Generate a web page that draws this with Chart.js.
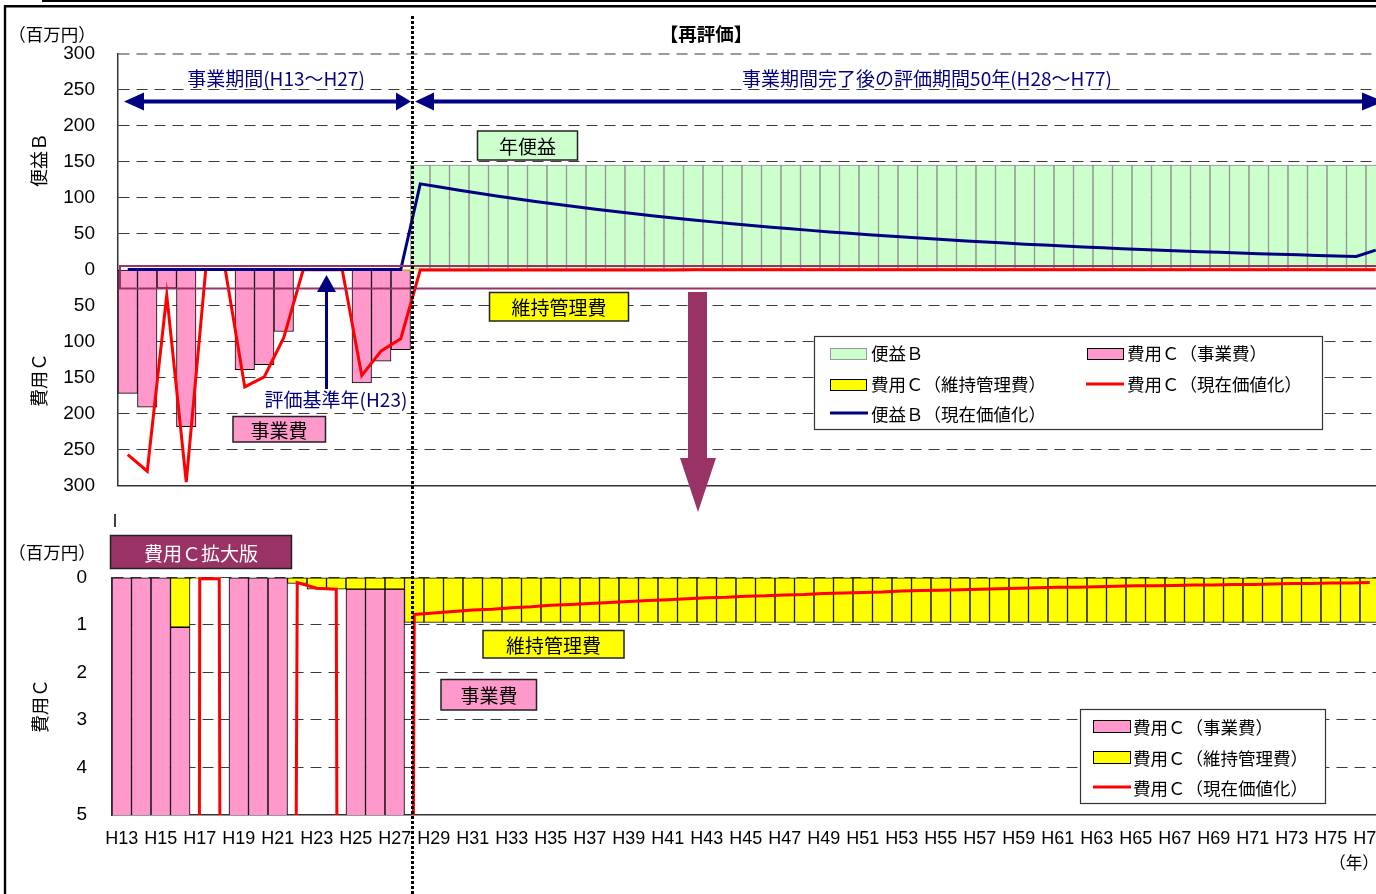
<!DOCTYPE html>
<html lang="ja">
<head>
<meta charset="utf-8">
<title>費用便益の推移</title>
<script src="https://cdn.jsdelivr.net/npm/chart.js@4.4.1/dist/chart.umd.min.js"></script>
<style>
  html, body { margin: 0; padding: 0; background: #fff; overflow: hidden; }
  #page { position: relative; width: 1376px; height: 894px; overflow: hidden; }
  canvas { position: absolute; left: 0; }
  #topChart { top: 0; }
  #bottomChart { top: 520px; }
  #overlay { position: absolute; left: 0; top: 0; }
  #overlay text { font-family: 'Noto Sans CJK JP', sans-serif; }
</style>
</head>
<body>
<div id="page">
  <canvas id="topChart" width="1400" height="520"></canvas>
  <canvas id="bottomChart" width="1400" height="374"></canvas>

  <svg id="overlay" width="1376" height="894" viewBox="0 0 1376 894">
    <!-- 外枠 -->
    <line x1="42" y1="1" x2="1376" y2="1" stroke="#000" stroke-width="2"/>
    <line x1="4" y1="6.2" x2="1376" y2="6.2" stroke="#000" stroke-width="2.6"/>
    <line x1="5" y1="5" x2="5" y2="894" stroke="#000" stroke-width="2.4"/>

    <!-- 単位・軸タイトル -->
    <text x="52" y="33.5" font-size="17.5" text-anchor="middle" dominant-baseline="central">（百万円）</text>
    <text x="52" y="551.5" font-size="17.5" text-anchor="middle" dominant-baseline="central">（百万円）</text>
    <text x="1354" y="862" font-size="16.5" text-anchor="middle" dominant-baseline="central">（年）</text>
    <text transform="translate(38 160) rotate(-90)" font-size="18" text-anchor="middle" dominant-baseline="central">便益Ｂ</text>
    <text transform="translate(38 380) rotate(-90)" font-size="18" text-anchor="middle" dominant-baseline="central">費用Ｃ</text>
    <text transform="translate(39 706) rotate(-90)" font-size="18" text-anchor="middle" dominant-baseline="central">費用Ｃ</text>
    <line x1="115" y1="514" x2="115" y2="527" stroke="#000" stroke-width="1.5"/>

    <text x="706" y="33" font-size="18.5" font-weight="bold" text-anchor="middle" dominant-baseline="central">【再評価】</text>

    <!-- 期間の矢印 -->
    <g fill="#000080" stroke="none">
      <text x="276" y="77.5" font-size="19" text-anchor="middle" dominant-baseline="central">事業期間(H13～H27)</text>
      <text x="927" y="77.5" font-size="19" text-anchor="middle" dominant-baseline="central">事業期間完了後の評価期間50年(H28～H77)</text>
      <rect x="140" y="99.5" width="260" height="4"/>
      <polygon points="124,101.5 144,92.5 144,110.5"/>
      <polygon points="411,101.5 396,92.5 396,110.5"/>
      <rect x="430" y="99.5" width="940" height="4"/>
      <polygon points="415,101.5 434,92.5 434,110.5"/>
      <polygon points="1384,101.5 1362,92.5 1362,110.5"/>
    </g>

    <!-- 0付近の枠と拡大矢印 -->
    <rect x="120" y="266" width="1280" height="22.5" fill="none" stroke="#993366" stroke-width="2"/>
    <rect x="688" y="292" width="19" height="167" fill="#993366"/>
    <polygon points="680,458 716,458 698,512" fill="#993366"/>

    <!-- 評価基準年 -->
    <g fill="#000080">
      <rect x="325" y="290" width="3" height="99"/>
      <polygon points="326.5,275 317,292 336,292"/>
      <text x="336" y="398" font-size="19" text-anchor="middle" dominant-baseline="central">評価基準年(H23)</text>
    </g>

    <!-- 注記ボックス -->
    <g stroke="#222" stroke-width="1.5">
      <rect x="477.5" y="131" width="100" height="29" fill="#ccffcc"/>
      <rect x="489.5" y="292.5" width="139" height="28.5" fill="#ffff00"/>
      <rect x="233" y="416.5" width="92.5" height="25.5" fill="#ff99cc"/>
      <rect x="110.5" y="535.5" width="181" height="33" fill="#993366"/>
      <rect x="483" y="630.5" width="141" height="27.5" fill="#ffff00"/>
      <rect x="441" y="679.5" width="95.5" height="30.5" fill="#ff99cc"/>
    </g>
    <g font-size="19" text-anchor="middle" dominant-baseline="central">
      <text x="527.5" y="145.5">年便益</text>
      <text x="559" y="306.5">維持管理費</text>
      <text x="279" y="429.5">事業費</text>
      <text x="201" y="552" fill="#fff">費用Ｃ拡大版</text>
      <text x="553.5" y="644">維持管理費</text>
      <text x="489" y="694.5">事業費</text>
    </g>

    <!-- 凡例（上段） -->
    <rect x="814.5" y="336.5" width="508" height="93" fill="#fff" stroke="#333" stroke-width="1.2"/>
    <rect x="830.5" y="348.5" width="36" height="11" fill="#ccffcc" stroke="#999"/>
    <rect x="1087.5" y="348.5" width="36" height="11" fill="#ff99cc" stroke="#000"/>
    <rect x="830.5" y="379.5" width="36" height="11" fill="#ffff00" stroke="#000"/>
    <line x1="1086" y1="384" x2="1124" y2="384" stroke="#ff0000" stroke-width="3"/>
    <line x1="830" y1="413" x2="868" y2="413" stroke="#000080" stroke-width="3"/>
    <g font-size="17.5" dominant-baseline="central">
      <text x="871" y="352.5">便益Ｂ</text>
      <text x="1127" y="352.5">費用Ｃ（事業費）</text>
      <text x="871" y="383.5">費用Ｃ（維持管理費）</text>
      <text x="1127" y="383.5">費用Ｃ（現在価値化）</text>
      <text x="871" y="413.5">便益Ｂ（現在価値化）</text>
    </g>

    <!-- 凡例（下段） -->
    <rect x="1080.5" y="709.5" width="245" height="94" fill="#fff" stroke="#333" stroke-width="1.2"/>
    <rect x="1093.5" y="720.5" width="37" height="12" fill="#ff99cc" stroke="#000"/>
    <rect x="1093.5" y="751.5" width="37" height="12" fill="#ffff00" stroke="#000"/>
    <line x1="1093" y1="787" x2="1131" y2="787" stroke="#ff0000" stroke-width="3"/>
    <g font-size="17.5" dominant-baseline="central">
      <text x="1133" y="726">費用Ｃ（事業費）</text>
      <text x="1133" y="757">費用Ｃ（維持管理費）</text>
      <text x="1133" y="787.5">費用Ｃ（現在価値化）</text>
    </g>

    <!-- 事業期間と評価期間の境界 -->
    <line x1="412.5" y1="16" x2="412.5" y2="894" stroke="#000" stroke-width="3" stroke-dasharray="3,2"/>
  </svg>
</div>

<script>
// 年度（H13～H77）
const years = [
  'H13','H14','H15','H16','H17','H18','H19','H20','H21','H22','H23','H24','H25','H26','H27',
  'H28','H29','H30','H31','H32','H33','H34','H35','H36','H37','H38','H39','H40','H41','H42',
  'H43','H44','H45','H46','H47','H48','H49','H50','H51','H52','H53','H54','H55','H56','H57',
  'H58','H59','H60','H61','H62','H63','H64','H65','H66','H67','H68','H69','H70','H71','H72',
  'H73','H74','H75','H76','H77'
];

// 便益B（年便益）百万円
const benefitB = [
  null, null, null, null, null, null, null, null, null, null, null, null, null, null, null,
  145, 145, 145, 145, 145, 145, 145, 145, 145, 145, 145, 145, 145, 145, 145,
  145, 145, 145, 145, 145, 145, 145, 145, 145, 145, 145, 145, 145, 145, 145,
  145, 145, 145, 145, 145, 145, 145, 145, 145, 145, 145, 145, 145, 145, 145,
  145, 145, 145, 145, 145
];

// 費用C（事業費）百万円
const costProject = [
  172, 191, 26, 217, null, null, 139, 132, 86, null, null, null, 157, 127, 111,
  null, null, null, null, null, null, null, null, null, null, null, null, null, null, null,
  null, null, null, null, null, null, null, null, null, null, null, null, null, null, null,
  null, null, null, null, null, null, null, null, null, null, null, null, null, null, null,
  null, null, null, null, null
];

// 費用C（維持管理費）百万円
const costMaint = [
  null, null, null, 1.05, 0.03, null, null, null, null, 0.13, 0.25, 0.25, 0.25, 0.25, 0.25,
  0.95, 0.95, 0.95, 0.95, 0.95, 0.95, 0.95, 0.95, 0.95, 0.95, 0.95, 0.95, 0.95, 0.95, 0.95,
  0.95, 0.95, 0.95, 0.95, 0.95, 0.95, 0.95, 0.95, 0.95, 0.95, 0.95, 0.95, 0.95, 0.95, 0.95,
  0.95, 0.95, 0.95, 0.95, 0.95, 0.95, 0.95, 0.95, 0.95, 0.95, 0.95, 0.95, 0.95, 0.95, 0.95,
  0.95, 0.95, 0.95, 0.95, 0.95
];

// 費用C（現在価値化）百万円
const costPV = [
  257, 280, 35.5, 295, 0.03, 0.03, 163, 149, 94.5, 0.11, 0.23, 0.25, 147, 113, 96,
  0.78, 0.75, 0.72, 0.69, 0.67, 0.64, 0.62, 0.59, 0.57, 0.55,
  0.53, 0.51, 0.49, 0.47, 0.45, 0.43, 0.42, 0.40, 0.39, 0.37,
  0.36, 0.34, 0.33, 0.32, 0.31, 0.29, 0.28, 0.27, 0.26, 0.25,
  0.24, 0.23, 0.22, 0.21, 0.21, 0.20, 0.19, 0.18, 0.18, 0.17,
  0.16, 0.16, 0.15, 0.15, 0.14, 0.13, 0.13, 0.12, 0.12, 0.11
];

// 便益B（現在価値化）百万円
const benefitPV = [
  0, 0, 0, 0, 0, 0, 0, 0, 0, 0, 0, 0, 0, 0, 0,
  119, 114.6, 110.2, 105.9, 101.9, 98, 94.2, 90.6, 87.1, 83.7,
  80.5, 77.4, 74.4, 71.6, 68.8, 66.2, 63.6, 61.2, 58.8, 56.6,
  54.4, 52.3, 50.3, 48.4, 46.5, 44.7, 43, 41.3, 39.7, 38.2,
  36.7, 35.3, 34, 32.7, 31.4, 30.2, 29, 27.9, 26.8, 25.8,
  24.8, 23.9, 23, 22.1, 21.2, 20.4, 19.6, 18.9, 18.1, 27
];

// 目盛
const topTicks = [-300, -250, -200, -150, -100, -50, 0, 50, 100, 150, 200, 250, 300];
const bottomTicks = [0, 1, 2, 3, 4, 5];

const PINK = '#ff99cc';
const YELLOW = '#ffff00';
const GREEN = '#ccffcc';
const RED = '#ff0000';
const NAVY = '#000080';
const GRID = '#3a3a3a';

const yTickFont = { family: "'Liberation Sans', Arial, sans-serif", size: 19 };
const xTickFont = { family: "'Liberation Sans', Arial, sans-serif", size: 18 };
const neg = arr => arr.map(v => (v == null ? null : -v));

Chart.defaults.color = '#000';

// 上段：便益と費用
new Chart(document.getElementById('topChart'), {
  type: 'bar',
  data: {
    labels: years,
    datasets: [
      { label: '費用C(維持管理費)', data: neg(costMaint), backgroundColor: YELLOW, borderWidth: 0, order: 3 },
      { label: '費用C(事業費)', data: neg(costProject), backgroundColor: PINK, borderColor: '#000',
        borderWidth: 1, borderSkipped: false, order: 3 },
      { label: '便益B', data: benefitB, backgroundColor: GREEN, borderColor: '#8c8c8c',
        borderWidth: 1, borderSkipped: false, order: 3 },
      { type: 'line', label: '費用C(現在価値化)', data: neg(costPV), borderColor: RED, borderWidth: 3,
        pointRadius: 0, tension: 0, stack: 'pvC', order: 2 },
      { type: 'line', label: '便益B(現在価値化)', data: benefitPV, borderColor: NAVY, borderWidth: 3,
        pointRadius: 0, tension: 0, stack: 'pvB', order: 1 }
    ]
  },
  options: {
    responsive: false,
    animation: false,
    events: [],
    layout: { padding: { top: 53.5, right: 14.5, bottom: 24.5, left: 0 } },
    datasets: { bar: { barPercentage: 1, categoryPercentage: 1 } },
    plugins: { legend: { display: false }, tooltip: { enabled: false } },
    scales: {
      x: {
        stacked: true,
        ticks: { display: false },
        grid: { display: false, drawTicks: false },
        border: { color: '#333', width: 1.5 },
        afterFit: s => { s.height = 0; }
      },
      y: {
        stacked: true,
        min: topTicks[0],
        max: topTicks[topTicks.length - 1],
        afterBuildTicks: s => { s.ticks = topTicks.map(v => ({ value: v })); },
        ticks: { padding: 23, font: yTickFont, callback: v => Math.abs(v) },
        grid: {
          drawTicks: false,
          color: c => (c.tick.value === 300 ? '#9a9a9a' : (c.tick.value === 0 || c.tick.value === -300) ? 'rgba(0,0,0,0)' : GRID),
          lineWidth: c => (c.tick.value === 300 ? 2 : 1)
        },
        border: { color: '#333', width: 1.5, dash: [11, 7] },
        afterFit: s => { s.width = 118; }
      }
    }
  }
});

// 下段：費用Cの拡大
const clipBottom = { left: 2, right: 2, top: 2, bottom: 0 };
new Chart(document.getElementById('bottomChart'), {
  type: 'bar',
  data: {
    labels: years,
    datasets: [
      { label: '費用C(維持管理費)', data: costMaint, backgroundColor: YELLOW, borderColor: '#000',
        borderWidth: 1, borderSkipped: false, clip: clipBottom, order: 2 },
      { label: '費用C(事業費)', data: costProject, backgroundColor: PINK, borderColor: '#000',
        borderWidth: 1, borderSkipped: false, clip: clipBottom, order: 2 },
      { type: 'line', label: '費用C(現在価値化)', data: costPV, borderColor: RED, borderWidth: 3,
        pointRadius: 0, tension: 0, stack: 'pvC', clip: { left: 2, right: 2, top: 3, bottom: 0 }, order: 1 }
    ]
  },
  options: {
    responsive: false,
    animation: false,
    events: [],
    layout: { padding: { top: 57.3, right: 20.5, bottom: 0, left: 0 } },
    datasets: { bar: { barPercentage: 1, categoryPercentage: 1 } },
    plugins: { legend: { display: false }, tooltip: { enabled: false } },
    scales: {
      x: {
        stacked: true,
        ticks: {
          autoSkip: false, maxRotation: 0, minRotation: 0, padding: 13, font: xTickFont,
          callback: (v, i) => (i % 2 === 0 ? years[i] : '')
        },
        grid: { display: false, drawTicks: false },
        border: { color: '#333', width: 1.5 },
        afterFit: s => { s.height = 79; }
      },
      y: {
        stacked: true,
        reverse: true,
        min: bottomTicks[0],
        max: bottomTicks[bottomTicks.length - 1],
        afterBuildTicks: s => { s.ticks = bottomTicks.map(v => ({ value: v })); },
        ticks: { padding: 25, font: yTickFont },
        grid: {
          drawTicks: false,
          color: c => (c.tick.value === 5 ? 'rgba(0,0,0,0)' : GRID)
        },
        border: { color: '#333', width: 1.5, dash: [11, 7] },
        afterFit: s => { s.width = 112; }
      }
    }
  }
});
</script>
</body>
</html>
